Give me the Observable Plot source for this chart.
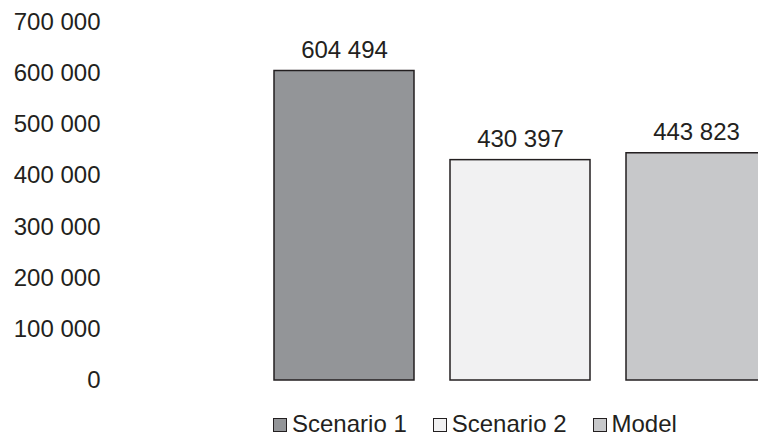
<!DOCTYPE html>
<html>
<head>
<meta charset="utf-8">
<script src="https://cdn.jsdelivr.net/npm/d3@7"></script>
<script src="https://cdn.jsdelivr.net/npm/@observablehq/plot@0.6"></script>
<style>
  html, body { margin: 0; padding: 0; background: #fff; overflow: hidden; width: 758px; height: 441px; }
  #chart { width: 790px; font-family: "Liberation Sans", Arial, sans-serif; color: #231f20; }
  .legend { display: flex; align-items: center; margin-left: 273px; height: 48px; font-size: 24px; color: #231f20; }
  .legend .item { display: flex; align-items: center; margin-right: 26px; }
  .legend .sw { width: 12px; height: 12px; border: 1.3px solid #231f20; margin-right: 5px; margin-top: 2px; box-sizing: content-box; }
</style>
</head>
<body>
<div id="chart"></div>
<script>
const categories = ["Scenario 1", "Scenario 2", "Model"];
const values = [604494, 430397, 443823];
const yTicks = [0, 100000, 200000, 300000, 400000, 500000, 600000, 700000];
const barColors = ["#939598", "#f1f1f2", "#c7c8ca"];

const data = categories.map((c, i) => ({category: c, value: values[i]}));
const fmt = d3.formatLocale({thousands: " ", grouping: [3], decimal: ".", currency: ["", ""]}).format(",");

const plot = Plot.plot({
  width: 790,
  height: 400,
  marginLeft: 256,
  marginRight: 6,
  marginTop: 21.6,
  marginBottom: 20,
  style: {fontFamily: "Liberation Sans, Arial, sans-serif", fontSize: "24px", color: "#231f20", background: "#fff"},
  x: {domain: categories, paddingInner: 0.206, paddingOuter: 0.1, axis: null},
  y: {domain: [0, 700000], ticks: yTicks, tickFormat: fmt, tickSize: 0, tickPadding: 156, label: null},
  color: {domain: categories, range: barColors},
  marks: [
    Plot.barY(data, {x: "category", y: "value", fill: "category", stroke: "#231f20", strokeWidth: 1.5}),
    Plot.text(data, {x: "category", y: "value", text: d => fmt(d.value), lineAnchor: "bottom", dy: -13, fill: "#231f20", fontSize: 24})
  ]
});
const chart = document.getElementById("chart");
chart.appendChild(plot);

const legend = document.createElement("div");
legend.className = "legend";
categories.forEach((c, i) => {
  const item = document.createElement("div");
  item.className = "item";
  const sw = document.createElement("span");
  sw.className = "sw";
  sw.style.background = barColors[i];
  const label = document.createElement("span");
  label.textContent = c;
  item.appendChild(sw);
  item.appendChild(label);
  legend.appendChild(item);
});
chart.appendChild(legend);
</script>
</body>
</html>
